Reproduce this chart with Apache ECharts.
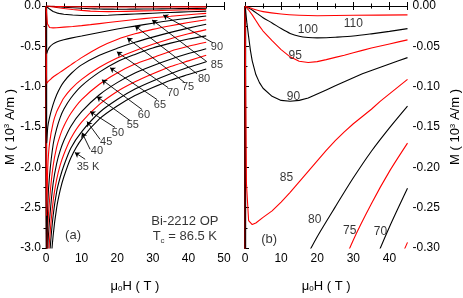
<!DOCTYPE html>
<html><head><meta charset="utf-8">
<script src="https://cdn.jsdelivr.net/npm/echarts@6/dist/echarts.min.js"></script>
<style>html,body{margin:0;padding:0;background:#fff}#c{width:463px;height:298px}</style>
</head><body><div id="c"></div>
<script>
// ---- data: M (10^3 A/m) vs mu0H (T) ----
const H_LOW = [0, 0.2, 0.5, 1, 2, 3, 4, 5, 7, 10, 15, 20, 25, 30, 35, 40, 45];
const M35 = [0, -4.2, -3.8, -3.4, -2.85, -2.5, -2.28, -2.12, -1.88, -1.65, -1.40, -1.24, -1.11, -1.01, -0.92, -0.85, -0.78];
const M40 = [0, -4.0, -3.5, -3.1, -2.6, -2.3, -2.12, -1.98, -1.76, -1.56, -1.32, -1.16, -1.03, -0.93, -0.84, -0.76, -0.69];
const M45 = [0, -3.8, -3.3, -2.9, -2.42, -2.15, -1.97, -1.84, -1.64, -1.44, -1.22, -1.06, -0.94, -0.84, -0.75, -0.68, -0.61];
const M50 = [0, -3.6, -3.0, -2.65, -2.2, -1.95, -1.79, -1.67, -1.49, -1.31, -1.10, -0.95, -0.83, -0.74, -0.66, -0.59, -0.53];
const M55 = [0, -3.4, -2.75, -2.4, -1.98, -1.75, -1.60, -1.49, -1.33, -1.16, -0.97, -0.83, -0.72, -0.64, -0.56, -0.50, -0.45];
const M60 = [0, -3.1, -2.45, -2.1, -1.72, -1.52, -1.38, -1.28, -1.14, -0.99, -0.82, -0.69, -0.60, -0.52, -0.46, -0.41, -0.37];
const M65 = [0, -2.6, -2.0, -1.7, -1.45, -1.31, -1.22, -1.14, -1.03, -0.91, -0.76, -0.645, -0.555, -0.475, -0.405, -0.345, -0.293];
const M70 = [0, -1.7, -1.5, -1.38, -1.22, -1.10, -1.01, -0.94, -0.84, -0.73, -0.61, -0.525, -0.45, -0.386, -0.327, -0.274, -0.226];
const M75 = [0, -0.96, -0.94, -0.92, -0.88, -0.85, -0.82, -0.79, -0.73, -0.64, -0.51, -0.415, -0.345, -0.290, -0.245, -0.205, -0.170];
const M80 = [0, -0.59, -0.55, -0.51, -0.47, -0.445, -0.43, -0.418, -0.398, -0.372, -0.328, -0.286, -0.249, -0.213, -0.180, -0.151, -0.124];

const H85 = [0, 0.4, 1, 2, 3, 5, 7.5, 10, 12.5, 15, 17.5, 20, 22.5, 25, 27.5, 30, 32.5, 35, 37.5, 40, 42.5, 45];
const M85 = [0, -0.22, -0.266, -0.271, -0.269, -0.262, -0.254, -0.243, -0.231, -0.218, -0.205, -0.192, -0.179, -0.167, -0.156, -0.146, -0.137, -0.128, -0.118, -0.109, -0.100, -0.091];
const H90 = [0, 0.5, 1, 1.5, 2, 3, 4, 5, 7.5, 10, 12.5, 15, 17.5, 20, 22.5, 25, 27.5, 30, 32.5, 35, 37.5, 40, 42.5, 45];
const M90 = [0, -0.02, -0.038, -0.055, -0.068, -0.085, -0.095, -0.102, -0.112, -0.117, -0.118, -0.117, -0.114, -0.109, -0.104, -0.099, -0.094, -0.089, -0.084, -0.080, -0.076, -0.072, -0.068, -0.064];
const H95 = [0, 1, 2, 3, 4, 5, 7.5, 10, 12.5, 15, 17.5, 20, 22.5, 25, 27.5, 30, 32.5, 35, 37.5, 40, 42.5, 45];
const M95 = [0, -0.005, -0.011, -0.018, -0.025, -0.031, -0.043, -0.054, -0.063, -0.0685, -0.070, -0.069, -0.0665, -0.0637, -0.061, -0.058, -0.055, -0.052, -0.0495, -0.047, -0.0445, -0.042];
const H100 = [0, 2, 5, 7.5, 10, 12.5, 15, 17.5, 20, 22.5, 25, 30, 35, 40, 45];
const M100 = [0, -0.005, -0.0145, -0.021, -0.028, -0.034, -0.0375, -0.039, -0.0395, -0.0394, -0.0388, -0.0372, -0.0345, -0.0315, -0.028];
const H110 = [0, 2.5, 5, 10, 15, 20, 30, 45];
const M110 = [0, -0.004, -0.007, -0.010, -0.0115, -0.012, -0.0115, -0.011];

const TEMPS = [35, 40, 45, 50, 55, 60, 65, 70, 75, 80, 85, 90, 95, 100, 110];
const COLORS = ['#000000','#000000','#ff0000','#000000','#ff0000','#000000','#ff0000','#000000','#ff0000','#000000','#ff0000','#000000','#ff0000','#000000','#ff0000'];

// annotation labels panel (a): [H, M, text]
const LABELS_A = [[48.0,-0.506,'90'],[48.0,-0.728,'85'],[44.4,-0.90,'80'],[39.9,-1.0,'75'],[35.7,-1.074,'70'],[32.0,-1.222,'65'],[27.5,-1.346,'60'],[24.4,-1.481,'55'],[20.2,-1.568,'50'],[16.9,-1.691,'45'],[14.3,-1.80,'40'],[11.8,-1.99,'35 K']];
const ARROWS_A = [
  [[46.9,-0.457],[32.9,-0.111]],[[45.2,-0.691],[29.8,-0.173]],[[42.4,-0.84],[25.0,-0.247]],
  [[39.0,-0.951],[22.8,-0.395]],[[34.3,-1.012],[19.9,-0.568]],[[31.2,-1.16],[18.0,-0.765]],
  [[27.0,-1.284],[15.7,-0.914]],[[23.6,-1.42],[14.3,-1.123]],[[19.4,-1.506],[12.4,-1.309]],
  [[15.2,-1.654],[11.5,-1.432]],[[12.4,-1.778],[10.1,-1.568]],[[11.0,-1.90],[8.1,-1.815]]];
const LABELS_B = [[30.0,-0.022,'110'],[17.4,-0.029,'100'],[13.9,-0.061,'95'],[13.4,-0.113,'90'],[11.5,-0.213,'85'],[19.3,-0.265,'80'],[29.0,-0.278,'75'],[37.5,-0.280,'70']];
const TEXT_A = [[7.6,-2.85,'(a)'],[39,-2.67,'Bi-2212 OP'],[39,-2.86,'T{s|c} = 86.5 K']];
const TEXT_B = [[6.7,-0.289,'(b)']];

const curves = [
  [H_LOW,M35],[H_LOW,M40],[H_LOW,M45],[H_LOW,M50],[H_LOW,M55],[H_LOW,M60],[H_LOW,M65],
  [H_LOW,M70],[H_LOW,M75],[H_LOW,M80],[H85,M85],[H90,M90],[H95,M95],[H100,M100],[H110,M110]];

const FONT = 'Liberation Sans, Arial, sans-serif';
const series = [];
curves.forEach((c, i) => {
  const d = c[0].map((h, k) => [h, c[1][k]]);
  const sparse = c[0].length < 20;
  [0, 1].forEach(g => {
    series.push({type:'line', xAxisIndex:g*2, yAxisIndex:g*2, data:d, showSymbol:false,
      smooth: sparse ? 0.25 : false, clip:true, silent:true,
      lineStyle:{color:COLORS[i], width:1.1}, z:2});
  });
});
series.push({type:'lines', coordinateSystem:'cartesian2d', xAxisIndex:0, yAxisIndex:0,
  symbol:['none','arrow'], symbolSize:[0,5], lineStyle:{color:'#000', width:0.9, opacity:1},
  data: ARROWS_A.map(a => ({coords:a})), z:3});
function textSeries(arr, g, size) {
  return {type:'scatter', xAxisIndex:g, yAxisIndex:g, symbolSize:0, clip:false, silent:true,
    data: arr, z:4,
    label:{show:true, position:'inside', formatter:p => p.value[2], color:'#000',
      fontFamily:FONT, fontSize:size, rich:{s:{fontSize:8, verticalAlign:'bottom', padding:[8,0,0,0], fontFamily:FONT}}}};
}
series.push(textSeries(LABELS_A, 0, 11));
series.push(textSeries(LABELS_B, 2, 12));
series.push(textSeries(TEXT_A, 0, 13));
series.push(textSeries(TEXT_B, 2, 13));

const axLine = {lineStyle:{color:'#000', width:1.2}};
const lab = {color:'#000', fontFamily:FONT, fontSize:12};
const nameStyle = {color:'#000', fontFamily:FONT, fontSize:13,
  rich:{sup:{fontSize:8, verticalAlign:'top', padding:[0,0,6,0], fontFamily:FONT},
        sub:{fontSize:8, verticalAlign:'bottom', padding:[6,0,0,0], fontFamily:FONT}}};
const tickIn = {inside:true, length:4, lineStyle:{color:'#000'}};
const minorIn = {show:true, splitNumber:2, length:2.5, lineStyle:{color:'#000'}};

const option = {
  animation:false,
  grid:[{left:46, top:6, width:178, height:243}, {left:245, top:5, width:167, height:246}],
  xAxis:[
    {gridIndex:0, type:'value', min:0, max:50, interval:10, position:'bottom', axisLine:axLine,
     axisTick:tickIn, minorTick:minorIn,
     axisLabel:Object.assign({margin:5}, lab), splitLine:{show:false},
     name:'μ{sub|0}H ( T )', nameLocation:'middle', nameGap:31, nameTextStyle:nameStyle},
    {gridIndex:0, type:'value', min:0, max:50, interval:10, position:'top', axisLine:axLine,
     axisTick:tickIn, minorTick:minorIn, axisLabel:{show:false}, splitLine:{show:false}},
    {gridIndex:1, type:'value', min:0, max:45, interval:10, position:'bottom', axisLine:axLine,
     axisTick:tickIn, minorTick:minorIn,
     axisLabel:Object.assign({margin:5, showMaxLabel:false}, lab), splitLine:{show:false},
     name:'μ{sub|0}H ( T )', nameLocation:'middle', nameGap:31, nameTextStyle:nameStyle},
    {gridIndex:1, type:'value', min:0, max:45, interval:10, position:'top', axisLine:axLine,
     axisTick:tickIn, minorTick:minorIn, axisLabel:{show:false}, splitLine:{show:false}}
  ],
  yAxis:[
    {gridIndex:0, type:'value', min:-3, max:0, interval:0.5, position:'left', axisLine:axLine,
     axisTick:{inside:false, length:3, lineStyle:{color:'#000'}}, minorTick:{show:true, splitNumber:2, length:2, lineStyle:{color:'#000'}},
     axisLabel:Object.assign({margin:5, formatter:v => v.toFixed(1)}, lab), splitLine:{show:false},
     name:'M ( 10{sup|3} A/m )', nameLocation:'middle', nameGap:28, nameRotate:90, nameTextStyle:nameStyle},
    {gridIndex:0, type:'value', min:-3, max:0, interval:0.5, position:'right', axisLine:axLine,
     axisTick:tickIn, minorTick:minorIn, axisLabel:{show:false}, splitLine:{show:false}},
    {gridIndex:1, type:'value', min:-0.3, max:0, interval:0.05, position:'right', axisLine:axLine,
     axisTick:{inside:false, length:3, lineStyle:{color:'#000'}}, minorTick:{show:true, splitNumber:2, length:2, lineStyle:{color:'#000'}},
     axisLabel:Object.assign({margin:5, formatter:v => v.toFixed(2)}, lab), splitLine:{show:false},
     name:'M ( 10{sup|3} A/m )', nameLocation:'middle', nameGap:41, nameRotate:90, nameTextStyle:nameStyle},
    {gridIndex:1, type:'value', min:-0.3, max:0, interval:0.05, position:'left', axisLine:axLine,
     axisTick:tickIn, minorTick:minorIn, axisLabel:{show:false}, splitLine:{show:false}}
  ],
  series: series
};
const chart = echarts.init(document.getElementById('c'), null, {renderer:'canvas'});
chart.setOption(option);
</script></body></html>
